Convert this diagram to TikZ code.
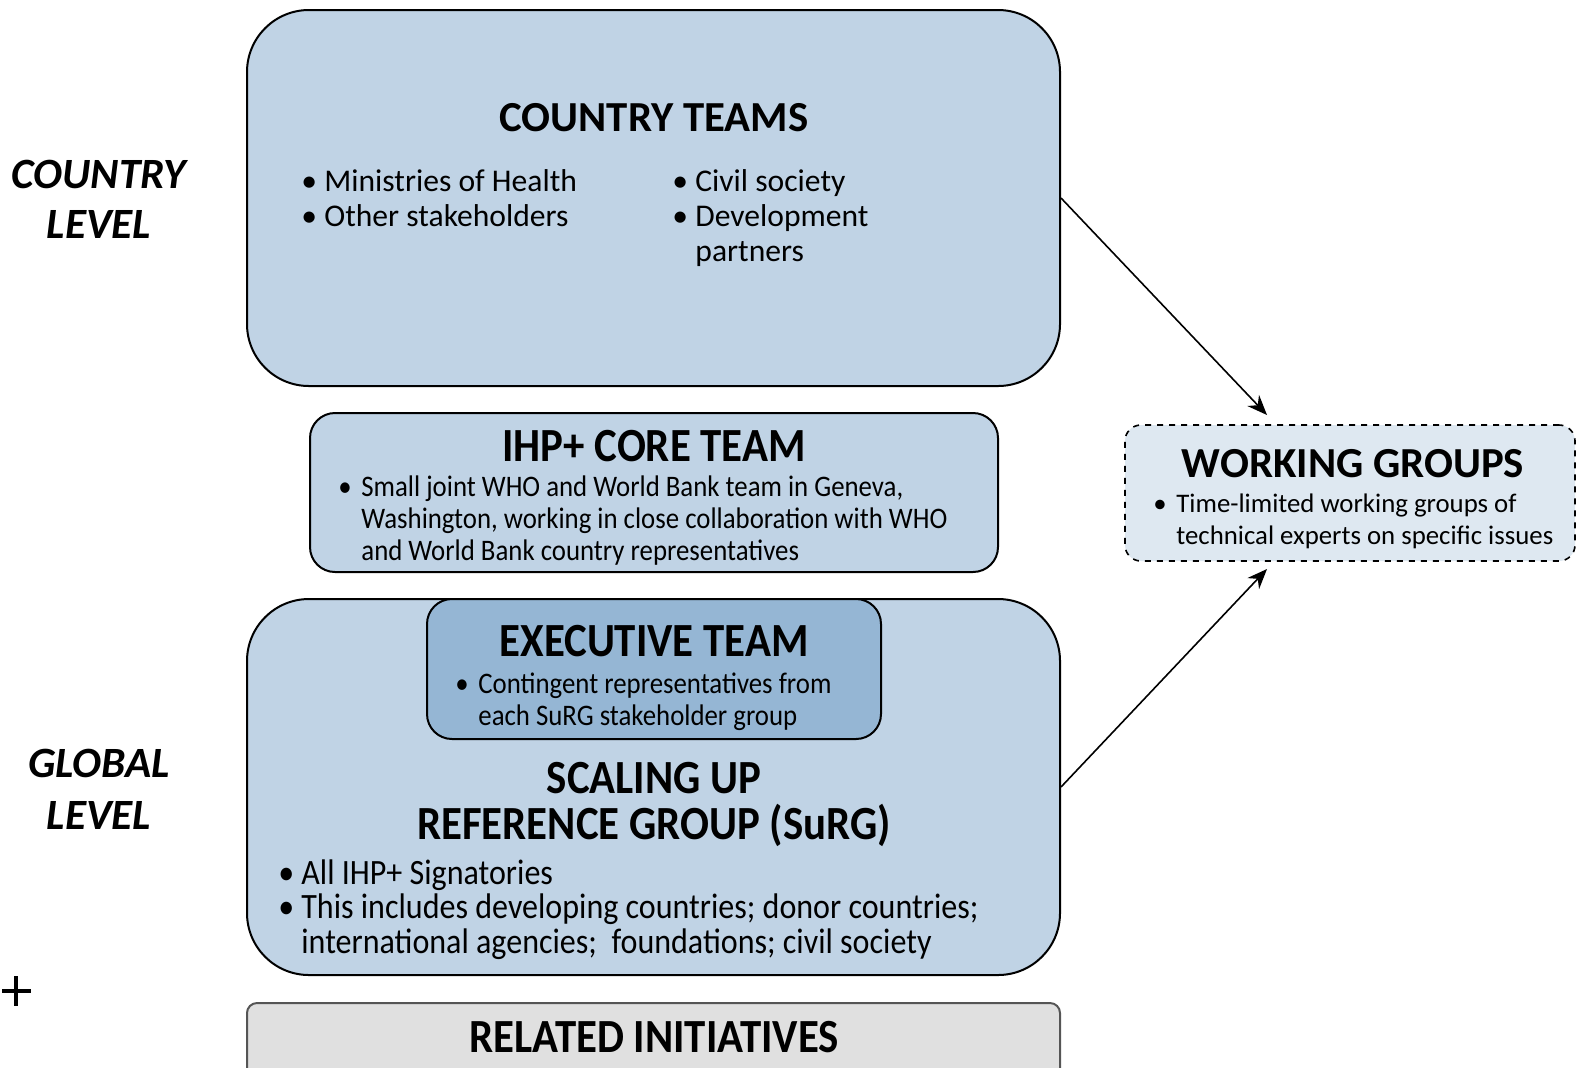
\documentclass[tikz,border=0pt]{standalone}
\usepackage{fontspec}
\setmainfont{Carlito}
\newfontfamily\narrowfont[FakeStretch=0.9]{Carlito}
\usetikzlibrary{arrows.meta}

\definecolor{boxblue}{RGB}{192,211,229}
\definecolor{execblue}{RGB}{149,182,212}
\definecolor{paleblue}{RGB}{222,232,241}
\definecolor{relgray}{RGB}{224,224,224}
\definecolor{relline}{RGB}{85,85,85}

\begin{document}
\begin{tikzpicture}[x=0.5pt,y=-0.5pt,>={Stealth[length=10pt,width=8pt]},
    bigbox/.style={draw,line width=1pt,fill=boxblue,rounded corners=31pt,minimum width=406.5pt,minimum height=188pt,inner sep=0pt},
    smallbox/.style={draw,line width=1pt,rounded corners=12.5pt,inner sep=0pt},
    title/.style={anchor=base,inner sep=0pt,font=\bfseries\fontsize{21.4}{24}\selectfont},
    narrowtitle/.style={anchor=base,inner sep=0pt,font=\narrowfont\bfseries\fontsize{23.8}{26}\selectfont},
    level/.style={anchor=base,inner sep=0pt,font=\bfseries\itshape\fontsize{21.6}{24}\selectfont},
    list/.style={anchor=base west,inner sep=0pt}]
    \useasboundingbox (0,0) rectangle (1577,1067);
    \clip (0,0) rectangle (1577,1067);

    % boxes
    \node[bigbox] (country) at (653.5,198) {};
    \node[smallbox,fill=boxblue,minimum width=344pt,minimum height=79.5pt] (core) at (654,492.5) {};
    \node[bigbox] (surg) at (653.5,787) {};
    \node[smallbox,fill=execblue,minimum width=227pt,minimum height=70pt] (exec) at (654,669) {};
    \node[draw=relline,line width=1pt,fill=relgray,rounded corners=5pt,minimum width=406.5pt,minimum height=50pt,inner sep=0pt] (related) at (653.5,1053) {};
    \node[draw,dashed,line width=0.8pt,fill=paleblue,rounded corners=8pt,minimum width=225pt,minimum height=68pt,inner sep=0pt] (working) at (1350,493) {};

    % country teams
    \node[title] (countrytitle) at (654,131) {COUNTRY TEAMS};
    \node[list,font=\fontsize{15.8}{17.5}\selectfont] (countryleft) at (301,191)
        {\begin{tabular}[t]{@{}p{11.5pt}@{}l@{}}
         \textbullet & Ministries of Health\\
         \textbullet & Other stakeholders
         \end{tabular}};
    \node[list,font=\fontsize{15.8}{17.5}\selectfont] (countryright) at (672,191)
        {\begin{tabular}[t]{@{}p{11.5pt}@{}l@{}}
         \textbullet & Civil society\\
         \textbullet & Development\\
                     & partners
         \end{tabular}};

    % core team
    \node[narrowtitle] (coretitle) at (654,461) {IHP+ CORE TEAM};
    \node[list,font=\narrowfont\fontsize{14.9}{16}\selectfont] (corelist) at (338,496)
        {\begin{tabular}[t]{@{}p{11.5pt}@{}l@{}}
         \textbullet & Small joint WHO and World Bank team in Geneva,\\
                     & Washington, working in close collaboration with WHO\\
                     & and World Bank country representatives
         \end{tabular}};

    % executive team
    \node[narrowtitle] (exectitle) at (654,656) {EXECUTIVE TEAM};
    \node[list,font=\narrowfont\fontsize{14.9}{16}\selectfont] (execlist) at (455,693)
        {\begin{tabular}[t]{@{}p{11.5pt}@{}l@{}}
         \textbullet & Contingent representatives from\\
                     & each SuRG stakeholder group
         \end{tabular}};

    % scaling up reference group
    \node[narrowtitle] (surgtitle) at (654,793) {SCALING UP};
    \node[narrowtitle] (surgtitle2) at (654,839) {REFERENCE GROUP (SuRG)};
    \node[list,font=\narrowfont\fontsize{17.8}{17}\selectfont] (surglist) at (278,884)
        {\begin{tabular}[t]{@{}p{11.5pt}@{}l@{}}
         \textbullet & All IHP+ Signatories\\
         \textbullet & This includes developing countries; donor countries;\\
                     & international agencies;\ \ foundations; civil society
         \end{tabular}};

    % related initiatives
    \node[narrowtitle] (relatedtitle) at (654,1052) {RELATED INITIATIVES};

    % working groups
    \node[title] (workingtitle) at (1353,477) {WORKING GROUPS};
    \node[list,font=\fontsize{13.4}{16}\selectfont] (workinglist) at (1153,512)
        {\begin{tabular}[t]{@{}p{11.5pt}@{}l@{}}
         \textbullet & Time-limited working groups of\\
                     & technical experts on specific issues
         \end{tabular}};

    % levels
    \node[level] (countrylvl) at (99,188) {COUNTRY};
    \node[level] (countrylvl2) at (99,238) {LEVEL};
    \node[level] (globallvl) at (99,777) {GLOBAL};
    \node[level] (globallvl2) at (99,829) {LEVEL};

    % cross mark
    \draw[line width=2pt] (2,991) -- (31,991) (16,976) -- (16,1006);

    % arrows
    \coordinate (wgin) at (1267,415);
    \coordinate (wgout) at (1267,569);
    \path[->,line width=0.8pt]
        (country.east) edge (wgin)
        (surg.east) edge (wgout);
\end{tikzpicture}
\end{document}
